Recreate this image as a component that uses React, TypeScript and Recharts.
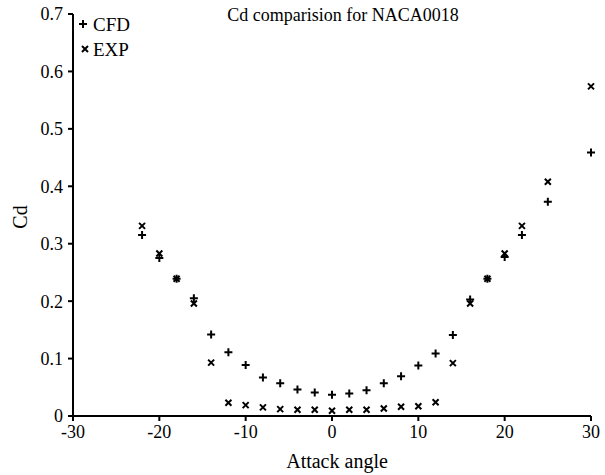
import { ScatterChart, Scatter, XAxis, YAxis } from 'recharts';

const angles = [-22, -20, -18, -16, -14, -12, -10, -8, -6, -4, -2, 0, 2, 4, 6, 8, 10, 12, 14, 16, 18, 20, 22, 25, 30];
const cfdCd = [0.315, 0.275, 0.239, 0.205, 0.142, 0.111, 0.089, 0.067, 0.057, 0.046, 0.041, 0.037, 0.039, 0.045, 0.057, 0.069, 0.088, 0.109, 0.141, 0.203, 0.239, 0.277, 0.315, 0.373, 0.459];
const expCd = [0.331, 0.283, 0.239, 0.196, 0.093, 0.023, 0.019, 0.015, 0.012, 0.011, 0.011, 0.009, 0.011, 0.011, 0.013, 0.016, 0.017, 0.024, 0.092, 0.196, 0.239, 0.283, 0.331, 0.408, 0.574];
const xTicks = [-30, -20, -10, 0, 10, 20, 30];
const yTicks = [0, 0.1, 0.2, 0.3, 0.4, 0.5, 0.6, 0.7];

const cfdData = angles.map((a, i) => ({ angle: a, cd: cfdCd[i] }));
const expData = angles.map((a, i) => ({ angle: a, cd: expCd[i] }));

const FONT = '"Liberation Serif", "Times New Roman", serif';

function Plus({ cx, cy }: any) {
  return <path d={`M${cx - 4},${cy}h8M${cx},${cy - 4}v8`} stroke="#000" strokeWidth={2} fill="none" />;
}

function Cross({ cx, cy }: any) {
  return <path d={`M${cx - 3},${cy - 3}l6,6M${cx - 3},${cy + 3}l6,-6`} stroke="#000" strokeWidth={2} fill="none" />;
}

export default function App() {
  const tick = { fill: '#000', fontSize: 18, fontFamily: FONT };
  return (
    <div style={{ position: 'absolute', left: 0, top: 0, width: 605, height: 475, background: '#fff' }}>
      <ScatterChart width={605} height={475} margin={{ top: 14, right: 14, bottom: 29, left: 13 }}>
        <XAxis
          type="number"
          dataKey="angle"
          domain={[-30, 30]}
          ticks={xTicks}
          tick={tick}
          tickSize={5}
          tickMargin={4}
          height={30}
          axisLine={{ stroke: '#000', strokeWidth: 2 }}
          tickLine={{ stroke: '#000', strokeWidth: 2 }}
        />
        <YAxis
          type="number"
          dataKey="cd"
          domain={[0, 0.7]}
          ticks={yTicks}
          tick={tick}
          tickSize={5}
          tickMargin={5}
          width={60}
          axisLine={{ stroke: '#000', strokeWidth: 2 }}
          tickLine={{ stroke: '#000', strokeWidth: 2 }}
        />
        <Scatter name="CFD" data={cfdData} shape={<Plus />} isAnimationActive={false} />
        <Scatter name="EXP" data={expData} shape={<Cross />} isAnimationActive={false} />

        <text x={343} y={21} textAnchor="middle" fontFamily={FONT} fontSize={18} fill="#000">
          Cd comparision for NACA0018
        </text>
        <text x={337} y={468} textAnchor="middle" fontFamily={FONT} fontSize={20} fill="#000">
          Attack angle
        </text>
        <text x={27} y={217} textAnchor="middle" fontFamily={FONT} fontSize={20} fill="#000" transform="rotate(-90 27 217)">
          Cd
        </text>

        {/* legend */}
        <Plus cx={83} cy={24} />
        <text x={93} y={31} fontFamily={FONT} fontSize={19} fill="#000">CFD</text>
        <Cross cx={85} cy={49} />
        <text x={93} y={56} fontFamily={FONT} fontSize={19} fill="#000">EXP</text>
      </ScatterChart>
    </div>
  );
}
